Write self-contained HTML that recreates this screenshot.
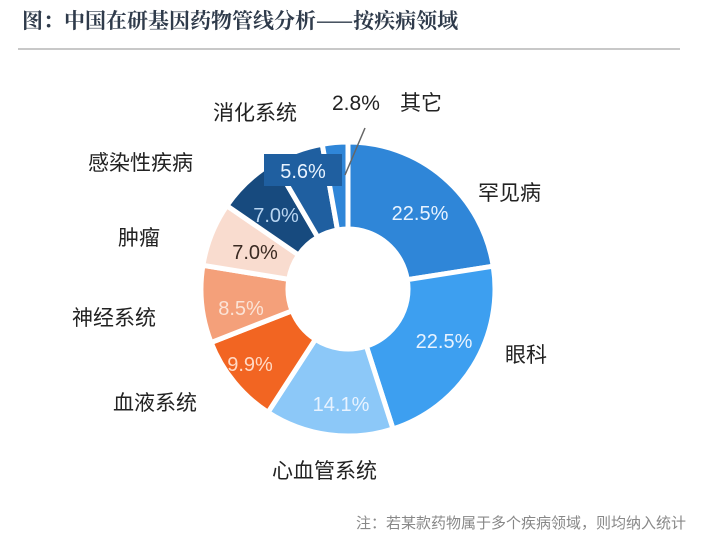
<!DOCTYPE html>
<html><head><meta charset="utf-8"><style>
body{margin:0;background:#fff;}
svg{display:block;font-family:"Liberation Sans","Noto Sans CJK SC",sans-serif;}
</style></head><body>
<svg id="s" width="702" height="544" viewBox="0 0 702 544">
<rect width="702" height="544" fill="#fff"/>
<text x="22" y="28" font-size="21" font-weight="bold" fill="#2f3b4b" font-family="'Noto Serif CJK SC','Noto Sans CJK SC',serif">图：中国在研基因药物管线分析——按疾病领域</text>
<rect x="18" y="48" width="662" height="2" fill="#c8c8c8"/>
<g id="pie"></g>
<rect x="264" y="154" width="78" height="32" fill="#1f5fa0"/>
<line x1="345" y1="175" x2="365" y2="128" stroke="#666" stroke-width="1.5"/>
<g font-size="20" fill="#e8f3ff" text-anchor="middle">
<text x="303" y="178">5.6%</text>
<text x="420" y="220">22.5%</text>
<text x="444" y="348">22.5%</text>
<text x="341" y="411">14.1%</text>
<text x="250" y="371" fill="#ffd9c4">9.9%</text>
<text x="241" y="315" fill="#fbe3d6">8.5%</text>
<text x="255" y="259" fill="#3a2a22">7.0%</text>
<text x="276" y="222" fill="#b9d6f2">7.0%</text>
</g>
<g font-size="21" fill="#222">
<text x="213" y="120">消化系统</text>
<text x="332" y="110">2.8%</text>
<text x="400" y="110">其它</text>
<text x="88" y="170">感染性疾病</text>
<text x="118" y="245">肿瘤</text>
<text x="72" y="325">神经系统</text>
<text x="113" y="410">血液系统</text>
<text x="272" y="478">心血管系统</text>
<text x="478" y="200">罕见病</text>
<text x="505" y="362">眼科</text>
</g>
<text x="686" y="528" font-size="15" fill="#888" text-anchor="end">注：若某款药物属于多个疾病领域，则均纳入统计</text>
</svg>
<script>
var d=[[22.5,"#2f86d8"],[22.5,"#3d9ff0"],[14.1,"#8cc8f8"],[9.9,"#f26522"],[8.5,"#f4a07a"],[7.0,"#f9dccf"],[7.0,"#174a7e"],[5.6,"#1f5fa0"],[2.8,"#2f86d8"]];
var cx=348,cy=289,R=147,r=60,a=0,tot=99.9,g=document.getElementById('pie'),h='';
function p(rad,ang){return [cx+rad*Math.sin(ang),cy-rad*Math.cos(ang)];}
d.forEach(function(e){var s=a*Math.PI/180,en=(a+e[0]/tot*360)*Math.PI/180;a+=e[0]/tot*360;
var lg=(en-s)>Math.PI?1:0,o1=p(R,s),o2=p(R,en),i1=p(r,en),i2=p(r,s);
h+='<path d="M'+o1+' A'+R+','+R+' 0 '+lg+' 1 '+o2+' L'+i1+' A'+r+','+r+' 0 '+lg+' 0 '+i2+'Z" fill="'+e[1]+'" stroke="#fff" stroke-width="5" stroke-linejoin="miter"/>';});
g.innerHTML=h;
</script>
</body></html>
